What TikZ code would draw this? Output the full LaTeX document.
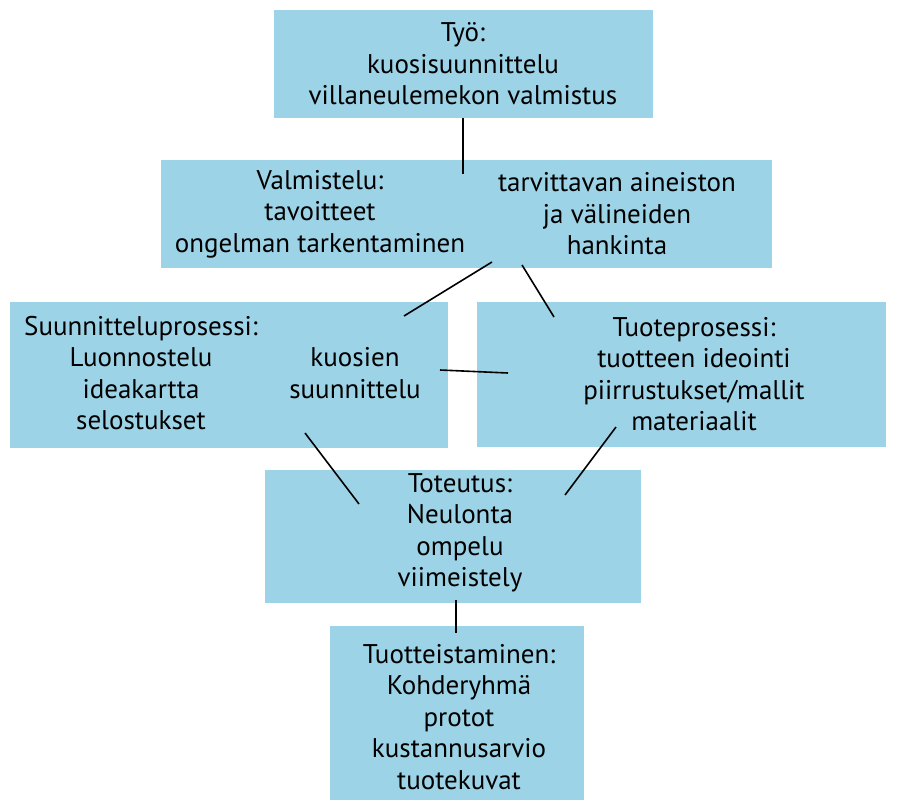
\documentclass[tikz,border=0pt]{standalone}
\usepackage{fontspec}
\setmainfont{PT Sans}
\usetikzlibrary{positioning}
\definecolor{boxblue}{RGB}{157,211,230}

\begin{document}
\begin{tikzpicture}[x=1pt, y=-1pt,
    box/.style={rectangle, fill=boxblue, inner sep=0pt, anchor=north west},
    boxtext/.style={align=center, text=black, inner sep=0pt, font=\fontsize{27}{31.5}\selectfont},
    link/.style={draw=black, line width=1.6pt}]
    \useasboundingbox (0,0) rectangle (898,800);

    % laatikot
    \node (tyo) [box, minimum width=379pt, minimum height=108pt] at (274,10) {};
    \node (valmistelu) [box, minimum width=611pt, minimum height=108pt] at (161,160) {};
    \node (suunnittelu) [box, minimum width=438pt, minimum height=146pt] at (10,302) {};
    \node (tuoteprosessi) [box, minimum width=409pt, minimum height=145pt] at (477,302) {};
    \node (toteutus) [box, minimum width=376pt, minimum height=133pt] at (265,470) {};
    \node (tuotteistaminen) [box, minimum width=254pt, minimum height=174pt] at (330,626) {};

    % tekstit
    \node (tyotext) [boxtext] at (463,64) {Työ:\\ kuosisuunnittelu\\ villaneulemekon valmistus};
    \node (valmtext) [boxtext] at (320,214) {Valmistelu:\\ tavoitteet\\ ongelman tarkentaminen};
    \node (hanktext) [boxtext] at (617,214) {tarvittavan aineiston\\ ja välineiden\\ hankinta};
    \node (suuntext) [boxtext] at (141,373) {Suunnitteluprosessi:\\ Luonnostelu\\ ideakartta\\ selostukset};
    \node (kuostext) [boxtext] at (355,373) {kuosien\\ suunnittelu};
    \node (tuotetext) [boxtext] at (694,374) {Tuoteprosessi:\\ tuotteen ideointi\\ piirrustukset/mallit\\ materiaalit};
    \node (totetext) [boxtext] at (460,533) {Toteutus:\\ Neulonta\\ ompelu\\ viimeistely};
    \node (tuottext) [boxtext] at (459,717) {Tuotteistaminen:\\ Kohderyhmä\\ protot\\ kustannusarvio\\ tuotekuvat};

    % viivat
    \coordinate (v1) at (463,174);
    \coordinate (h1) at (492,262);
    \coordinate (s1) at (404,316);
    \coordinate (h2) at (522,265);
    \coordinate (p1) at (554,317);
    \coordinate (k1) at (440,370);
    \coordinate (p2) at (508,373);
    \coordinate (s2) at (305,433);
    \coordinate (t1) at (359,504);
    \coordinate (p3) at (616,427);
    \coordinate (t2) at (565,495);
    \coordinate (t3) at (456,600);
    \coordinate (u1) at (456,633);

    \draw [link] (tyo.south -| v1) -- (v1);
    \draw [link] (h1) -- (s1);
    \draw [link] (h2) -- (p1);
    \draw [link] (k1) -- (p2);
    \draw [link] (s2) -- (t1);
    \draw [link] (p3) -- (t2);
    \draw [link] (t3) -- (u1);
\end{tikzpicture}
\end{document}
